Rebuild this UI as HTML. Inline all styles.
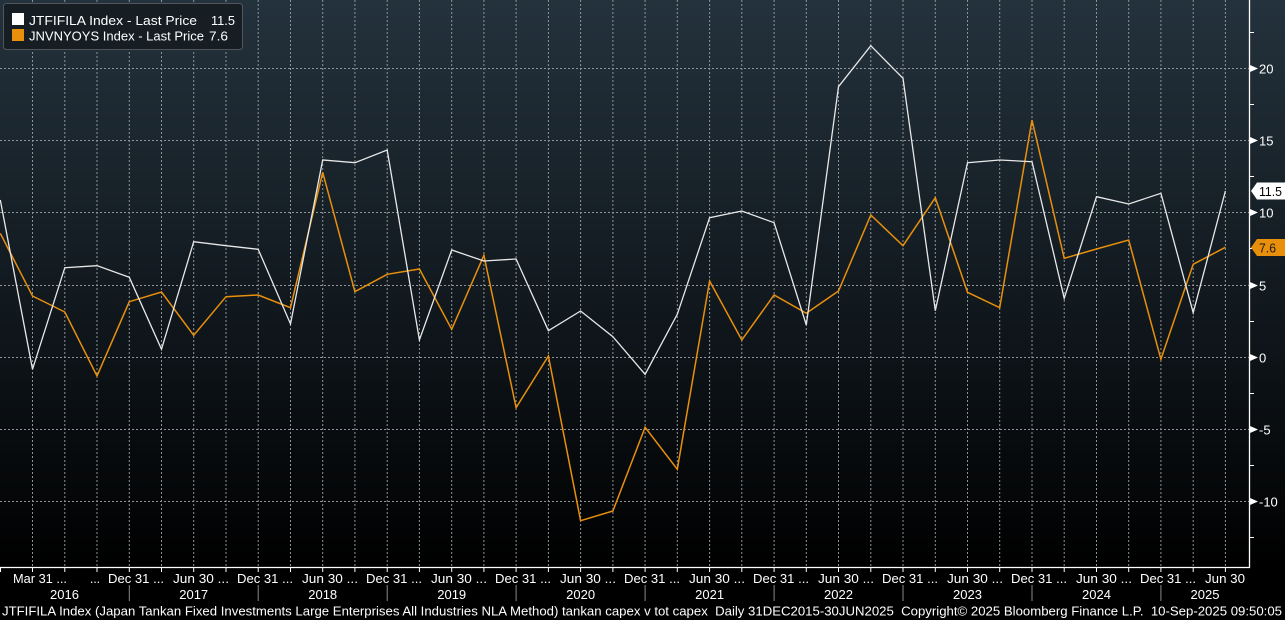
<!DOCTYPE html>
<html><head><meta charset="utf-8"><style>
html,body{margin:0;padding:0;background:#000;}
svg{display:block;}
text{font-family:"Liberation Sans",sans-serif;}
</style></head><body>
<svg width="1285" height="620" viewBox="0 0 1285 620" xmlns="http://www.w3.org/2000/svg">
<defs>
<linearGradient id="bg" x1="0" y1="0" x2="0" y2="568" gradientUnits="userSpaceOnUse">
<stop offset="0" stop-color="#24323d"/>
<stop offset="0.25" stop-color="#1b262e"/>
<stop offset="0.5" stop-color="#121a20"/>
<stop offset="0.75" stop-color="#090d10"/>
<stop offset="1" stop-color="#000000"/>
</linearGradient>
</defs>
<rect x="0" y="0" width="1285" height="620" fill="#000"/>
<rect x="0" y="0" width="1285" height="568" fill="url(#bg)"/>

<!-- horizontal grid -->
<g stroke="#8f9499" stroke-width="1" stroke-dasharray="2,2" fill="none">
<line x1="0" y1="68.5" x2="1250" y2="68.5"/>
<line x1="0" y1="140.5" x2="1250" y2="140.5"/>
<line x1="0" y1="212.5" x2="1250" y2="212.5"/>
<line x1="0" y1="285.5" x2="1250" y2="285.5"/>
<line x1="0" y1="357.5" x2="1250" y2="357.5"/>
<line x1="0" y1="429.5" x2="1250" y2="429.5"/>
<line x1="0" y1="501.5" x2="1250" y2="501.5"/>
</g>
<!-- vertical grid -->
<g stroke="#8f9499" stroke-width="1" stroke-dasharray="2,2" fill="none">
<line x1="32.5" y1="0" x2="32.5" y2="568"/>
<line x1="64.8" y1="0" x2="64.8" y2="568"/>
<line x1="97.0" y1="0" x2="97.0" y2="568"/>
<line x1="129.3" y1="0" x2="129.3" y2="568"/>
<line x1="161.5" y1="0" x2="161.5" y2="568"/>
<line x1="193.7" y1="0" x2="193.7" y2="568"/>
<line x1="226.0" y1="0" x2="226.0" y2="568"/>
<line x1="258.2" y1="0" x2="258.2" y2="568"/>
<line x1="290.5" y1="0" x2="290.5" y2="568"/>
<line x1="322.7" y1="0" x2="322.7" y2="568"/>
<line x1="354.9" y1="0" x2="354.9" y2="568"/>
<line x1="387.2" y1="0" x2="387.2" y2="568"/>
<line x1="419.4" y1="0" x2="419.4" y2="568"/>
<line x1="451.7" y1="0" x2="451.7" y2="568"/>
<line x1="483.9" y1="0" x2="483.9" y2="568"/>
<line x1="516.1" y1="0" x2="516.1" y2="568"/>
<line x1="548.4" y1="0" x2="548.4" y2="568"/>
<line x1="580.6" y1="0" x2="580.6" y2="568"/>
<line x1="612.9" y1="0" x2="612.9" y2="568"/>
<line x1="645.1" y1="0" x2="645.1" y2="568"/>
<line x1="677.3" y1="0" x2="677.3" y2="568"/>
<line x1="709.6" y1="0" x2="709.6" y2="568"/>
<line x1="741.8" y1="0" x2="741.8" y2="568"/>
<line x1="774.1" y1="0" x2="774.1" y2="568"/>
<line x1="806.3" y1="0" x2="806.3" y2="568"/>
<line x1="838.5" y1="0" x2="838.5" y2="568"/>
<line x1="870.8" y1="0" x2="870.8" y2="568"/>
<line x1="903.0" y1="0" x2="903.0" y2="568"/>
<line x1="935.3" y1="0" x2="935.3" y2="568"/>
<line x1="967.5" y1="0" x2="967.5" y2="568"/>
<line x1="999.7" y1="0" x2="999.7" y2="568"/>
<line x1="1032.0" y1="0" x2="1032.0" y2="568"/>
<line x1="1064.2" y1="0" x2="1064.2" y2="568"/>
<line x1="1096.5" y1="0" x2="1096.5" y2="568"/>
<line x1="1128.7" y1="0" x2="1128.7" y2="568"/>
<line x1="1160.9" y1="0" x2="1160.9" y2="568"/>
<line x1="1193.2" y1="0" x2="1193.2" y2="568"/>
<line x1="1225.4" y1="0" x2="1225.4" y2="568"/>
</g>

<!-- orange series -->
<polyline fill="none" stroke="#e8900c" stroke-width="1.5" stroke-linejoin="miter" points="0.3,233.3 32.5,296 64.8,312 97.0,376 129.3,301.7 161.5,292 193.7,335.3 226.0,296.7 258.2,295 290.5,307.7 322.7,172.3 354.9,291.7 387.2,274.3 419.4,269 451.7,329.3 483.9,255.3 516.1,407.7 548.4,356 580.6,520.7 612.9,511 645.1,427.3 677.3,469.3 709.6,281 741.8,340 774.1,295 806.3,313.3 838.5,291 870.8,215 903.0,245.7 935.3,197.7 967.5,292.3 999.7,307.7 1032.0,120 1064.2,258.3 1096.5,249 1128.7,240 1160.9,359.3 1193.2,264.3 1225.4,247.3"/>
<!-- white series -->
<polyline fill="none" stroke="#e8e8e8" stroke-width="1.3" stroke-linejoin="miter" points="0.3,200 32.5,369.3 64.8,267.7 97.0,265.7 129.3,277.3 161.5,349.3 193.7,241.7 226.0,245.7 258.2,249.3 290.5,324 322.7,160 354.9,162.7 387.2,150 419.4,340 451.7,250 483.9,261 516.1,259 548.4,330.7 580.6,311 612.9,336.7 645.1,374.3 677.3,314.3 709.6,217.7 741.8,211 774.1,222.7 806.3,325 838.5,86.7 870.8,45.7 903.0,78.3 935.3,310.7 967.5,162.7 999.7,160 1032.0,161.7 1064.2,298.3 1096.5,196.7 1128.7,204 1160.9,193.3 1193.2,312.7 1225.4,191"/>

<!-- axes -->
<line x1="1249.5" y1="0" x2="1249.5" y2="568" stroke="#fff" stroke-width="1.3"/>
<line x1="0" y1="567.5" x2="1250" y2="567.5" stroke="#fff" stroke-width="1.3"/>

<!-- right axis minor ticks -->
<g stroke="#fff" stroke-width="1">
<line x1="1250" y1="32.5" x2="1254" y2="32.5"/>
<line x1="1250" y1="104.5" x2="1254" y2="104.5"/>
<line x1="1250" y1="176.5" x2="1254" y2="176.5"/>
<line x1="1250" y1="248.5" x2="1254" y2="248.5"/>
<line x1="1250" y1="321.5" x2="1254" y2="321.5"/>
<line x1="1250" y1="393.5" x2="1254" y2="393.5"/>
<line x1="1250" y1="465.5" x2="1254" y2="465.5"/>
<line x1="1250" y1="537.5" x2="1254" y2="537.5"/>
</g>
<!-- major tick pointers -->
<g fill="#fff">
<polygon points="1250,65 1258,68.5 1250,72"/>
<polygon points="1250,137 1258,140.5 1250,144"/>
<polygon points="1250,209 1258,212.5 1250,216"/>
<polygon points="1250,282 1258,285.5 1250,289"/>
<polygon points="1250,354 1258,357.5 1250,361"/>
<polygon points="1250,426 1258,429.5 1250,433"/>
<polygon points="1250,498 1258,501.5 1250,505"/>
</g>
<g fill="#fff" font-size="13">
<text x="1259" y="73.5">20</text>
<text x="1259" y="145.5">15</text>
<text x="1259" y="217.5">10</text>
<text x="1259" y="290.5">5</text>
<text x="1259" y="362.5">0</text>
<text x="1259" y="434.5">-5</text>
<text x="1259" y="506.5">-10</text>
</g>

<!-- last value tags -->
<polygon points="1251,191 1257,182.5 1285,182.5 1285,199.5 1257,199.5" fill="#ffffff"/>
<text x="1259" y="196" font-size="13" fill="#000" textLength="23" lengthAdjust="spacingAndGlyphs">11.5</text>
<polygon points="1251,247.5 1257,239 1285,239 1285,256 1257,256" fill="#e8900c"/>
<text x="1259" y="252.5" font-size="13" fill="#1a1a1a" textLength="17" lengthAdjust="spacingAndGlyphs">7.6</text>

<!-- legend -->
<rect x="3.5" y="3.5" width="239" height="46" rx="3" ry="3" fill="#161d23" stroke="#50565c" stroke-width="1"/>
<rect x="12" y="13" width="12" height="12" fill="#fff"/>
<rect x="12" y="29" width="12" height="12" fill="#e8900c"/>
<g fill="#fff" font-size="13">
<text x="29" y="25" textLength="168" lengthAdjust="spacingAndGlyphs">JTFIFILA Index - Last Price</text>
<text x="211" y="25" textLength="24" lengthAdjust="spacingAndGlyphs">11.5</text>
<text x="29" y="40.5" textLength="175" lengthAdjust="spacingAndGlyphs">JNVNYOYS Index - Last Price</text>
<text x="209" y="40.5" textLength="19" lengthAdjust="spacingAndGlyphs">7.6</text>
</g>

<!-- bottom ticks -->
<g stroke="#fff" stroke-width="1">
<line x1="0.5" y1="568" x2="0.5" y2="572"/>
<line x1="32.5" y1="568" x2="32.5" y2="572"/>
<line x1="64.8" y1="568" x2="64.8" y2="572"/>
<line x1="97.0" y1="568" x2="97.0" y2="572"/>
<line x1="129.3" y1="568" x2="129.3" y2="572"/>
<line x1="161.5" y1="568" x2="161.5" y2="572"/>
<line x1="193.7" y1="568" x2="193.7" y2="572"/>
<line x1="226.0" y1="568" x2="226.0" y2="572"/>
<line x1="258.2" y1="568" x2="258.2" y2="572"/>
<line x1="290.5" y1="568" x2="290.5" y2="572"/>
<line x1="322.7" y1="568" x2="322.7" y2="572"/>
<line x1="354.9" y1="568" x2="354.9" y2="572"/>
<line x1="387.2" y1="568" x2="387.2" y2="572"/>
<line x1="419.4" y1="568" x2="419.4" y2="572"/>
<line x1="451.7" y1="568" x2="451.7" y2="572"/>
<line x1="483.9" y1="568" x2="483.9" y2="572"/>
<line x1="516.1" y1="568" x2="516.1" y2="572"/>
<line x1="548.4" y1="568" x2="548.4" y2="572"/>
<line x1="580.6" y1="568" x2="580.6" y2="572"/>
<line x1="612.9" y1="568" x2="612.9" y2="572"/>
<line x1="645.1" y1="568" x2="645.1" y2="572"/>
<line x1="677.3" y1="568" x2="677.3" y2="572"/>
<line x1="709.6" y1="568" x2="709.6" y2="572"/>
<line x1="741.8" y1="568" x2="741.8" y2="572"/>
<line x1="774.1" y1="568" x2="774.1" y2="572"/>
<line x1="806.3" y1="568" x2="806.3" y2="572"/>
<line x1="838.5" y1="568" x2="838.5" y2="572"/>
<line x1="870.8" y1="568" x2="870.8" y2="572"/>
<line x1="903.0" y1="568" x2="903.0" y2="572"/>
<line x1="935.3" y1="568" x2="935.3" y2="572"/>
<line x1="967.5" y1="568" x2="967.5" y2="572"/>
<line x1="999.7" y1="568" x2="999.7" y2="572"/>
<line x1="1032.0" y1="568" x2="1032.0" y2="572"/>
<line x1="1064.2" y1="568" x2="1064.2" y2="572"/>
<line x1="1096.5" y1="568" x2="1096.5" y2="572"/>
<line x1="1128.7" y1="568" x2="1128.7" y2="572"/>
<line x1="1160.9" y1="568" x2="1160.9" y2="572"/>
<line x1="1193.2" y1="568" x2="1193.2" y2="572"/>
<line x1="1225.4" y1="568" x2="1225.4" y2="572"/>
</g>
<!-- year separators -->
<g stroke="#8a8a8a" stroke-width="1">
<line x1="129.3" y1="585" x2="129.3" y2="601"/>
<line x1="258.2" y1="585" x2="258.2" y2="601"/>
<line x1="387.2" y1="585" x2="387.2" y2="601"/>
<line x1="516.1" y1="585" x2="516.1" y2="601"/>
<line x1="645.1" y1="585" x2="645.1" y2="601"/>
<line x1="774.1" y1="585" x2="774.1" y2="601"/>
<line x1="903.0" y1="585" x2="903.0" y2="601"/>
<line x1="1032.0" y1="585" x2="1032.0" y2="601"/>
<line x1="1160.9" y1="585" x2="1160.9" y2="601"/>
</g>

<!-- bottom labels row 1 -->
<g fill="#fff" font-size="13">
<text x="13" y="583" textLength="54" lengthAdjust="spacingAndGlyphs">Mar 31 ...</text>
<text x="90" y="583" textLength="10" lengthAdjust="spacingAndGlyphs">...</text>
<text x="108" y="583" textLength="56" lengthAdjust="spacingAndGlyphs">Dec 31 ...</text>
<text x="173" y="583" textLength="56" lengthAdjust="spacingAndGlyphs">Jun 30 ...</text>
<text x="237" y="583" textLength="56" lengthAdjust="spacingAndGlyphs">Dec 31 ...</text>
<text x="302" y="583" textLength="56" lengthAdjust="spacingAndGlyphs">Jun 30 ...</text>
<text x="366" y="583" textLength="56" lengthAdjust="spacingAndGlyphs">Dec 31 ...</text>
<text x="431" y="583" textLength="56" lengthAdjust="spacingAndGlyphs">Jun 30 ...</text>
<text x="495" y="583" textLength="56" lengthAdjust="spacingAndGlyphs">Dec 31 ...</text>
<text x="560" y="583" textLength="56" lengthAdjust="spacingAndGlyphs">Jun 30 ...</text>
<text x="624" y="583" textLength="56" lengthAdjust="spacingAndGlyphs">Dec 31 ...</text>
<text x="689" y="583" textLength="56" lengthAdjust="spacingAndGlyphs">Jun 30 ...</text>
<text x="753" y="583" textLength="56" lengthAdjust="spacingAndGlyphs">Dec 31 ...</text>
<text x="818" y="583" textLength="56" lengthAdjust="spacingAndGlyphs">Jun 30 ...</text>
<text x="882" y="583" textLength="56" lengthAdjust="spacingAndGlyphs">Dec 31 ...</text>
<text x="947" y="583" textLength="56" lengthAdjust="spacingAndGlyphs">Jun 30 ...</text>
<text x="1011" y="583" textLength="56" lengthAdjust="spacingAndGlyphs">Dec 31 ...</text>
<text x="1076" y="583" textLength="56" lengthAdjust="spacingAndGlyphs">Jun 30 ...</text>
<text x="1140" y="583" textLength="56" lengthAdjust="spacingAndGlyphs">Dec 31 ...</text>
<text x="1205" y="583" textLength="40" lengthAdjust="spacingAndGlyphs">Jun 30</text>
</g>
<!-- year labels -->
<g fill="#fff" font-size="13" text-anchor="middle">
<text x="64.5" y="599">2016</text>
<text x="193.7" y="599">2017</text>
<text x="322.7" y="599">2018</text>
<text x="451.7" y="599">2019</text>
<text x="580.6" y="599">2020</text>
<text x="709.6" y="599">2021</text>
<text x="838.5" y="599">2022</text>
<text x="967.5" y="599">2023</text>
<text x="1096.5" y="599">2024</text>
<text x="1205" y="599">2025</text>
</g>
<!-- footer -->
<text x="2" y="615.5" fill="#fff" font-size="13" style="white-space:pre" textLength="1280" lengthAdjust="spacingAndGlyphs">JTFIFILA Index (Japan Tankan Fixed Investments Large Enterprises All Industries NLA Method) tankan capex v tot capex  Daily 31DEC2015-30JUN2025  Copyright© 2025 Bloomberg Finance L.P.  10-Sep-2025 09:50:05</text>
</svg>
</body></html>
